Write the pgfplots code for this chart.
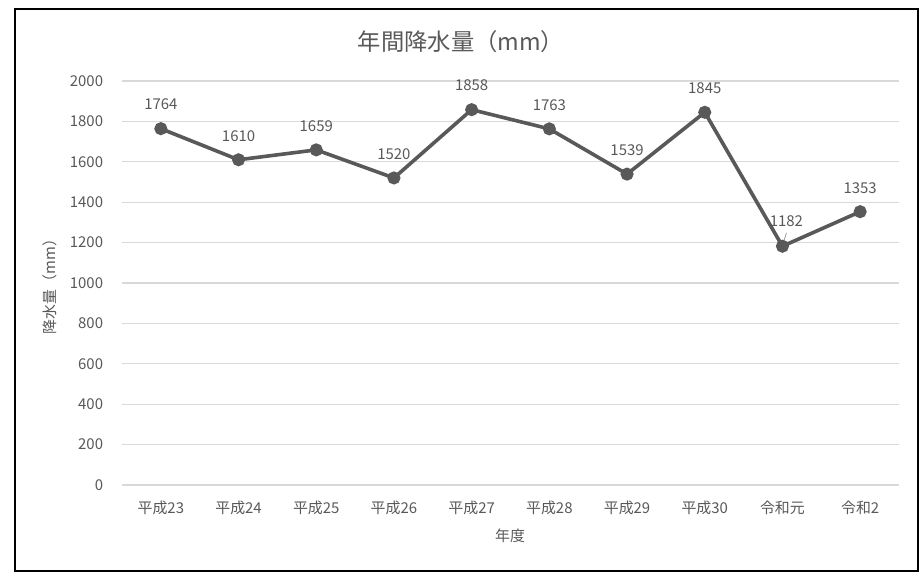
\documentclass[border=0pt]{standalone}
\usepackage{fontspec}
\setmainfont{Noto Sans CJK JP}
\usepackage{pgfplots}
\pgfplotsset{compat=1.18}
\definecolor{txt}{HTML}{595959}
\definecolor{ln}{HTML}{595959}
\definecolor{grd}{HTML}{D9D9D9}
\newcommand{\lblfont}{\fontsize{11.2}{13}\selectfont}
\begin{document}
\begin{tikzpicture}[x=0.75pt,y=0.75pt]
% page = 922 x 573 px, 1px = 0.75pt
\path[use as bounding box, fill=white] (0,0) rectangle (922,573);
\draw[black, line width=1.5pt] (15,2) rectangle (918,564);
\begin{axis}[
  at={(91.5pt,66pt)}, anchor=south west,
  scale only axis, width=582.75pt, height=303pt,
  xmin=-0.5, xmax=9.5, ymin=0, ymax=2000,
  xtick=data,
  xticklabels={平成23,平成24,平成25,平成26,平成27,平成28,平成29,平成30,令和元,令和2},
  ytick={0,200,...,2000},
  ymajorgrids, grid style={grd, line width=0.9pt},
  axis line style={draw=none},
  major tick length=0pt,
  /pgf/number format/assume math mode=true,
  /pgf/number format/set thousands separator={},
  tick label style={font=\lblfont, text=txt},
  yticklabel style={anchor=east, inner sep=0pt, xshift=-14pt},
  xticklabel style={anchor=center, inner sep=0pt, yshift=-17pt},
  clip=false,
]
\addplot[ln, line width=2.7pt, mark=*, mark size=3.5pt, mark options={solid, fill=ln, draw=ln}]
  coordinates {(0,1764) (1,1610) (2,1659) (3,1520) (4,1858) (5,1763) (6,1539) (7,1845) (8,1182) (9,1353)};
% data labels
\addplot[draw=none, no marks, nodes near coords,
  every node near coord/.append style={font=\lblfont, text=txt, anchor=center, inner sep=0pt, yshift=18pt},
  /pgf/number format/set thousands separator={}]
  coordinates {(0,1764) (1,1610) (2,1659) (3,1520) (4,1858) (5,1763) (6,1539) (7,1845) (9,1353)};
\addplot[draw=none, no marks, nodes near coords,
  every node near coord/.append style={font=\lblfont, text=txt, anchor=center, inner sep=0pt, yshift=19pt, xshift=3pt},
  /pgf/number format/set thousands separator={}]
  coordinates {(8,1182)};
\draw[txt!70, line width=0.5pt] ([shift={(0.8pt,3pt)}]axis cs:8,1182) -- ([shift={(3pt,10pt)}]axis cs:8,1182);
\end{axis}
\node[text=txt, font=\fontsize{17.5}{21}\selectfont] at (461,531) {年間降水量（mm）};
\node[text=txt, font=\fontsize{11.2}{13}\selectfont] at (510,37) {年度};
\node[text=txt, font=\fontsize{11.2}{13}\selectfont, rotate=90] at (50,290) {降水量（mm）};
\end{tikzpicture}
\end{document}
